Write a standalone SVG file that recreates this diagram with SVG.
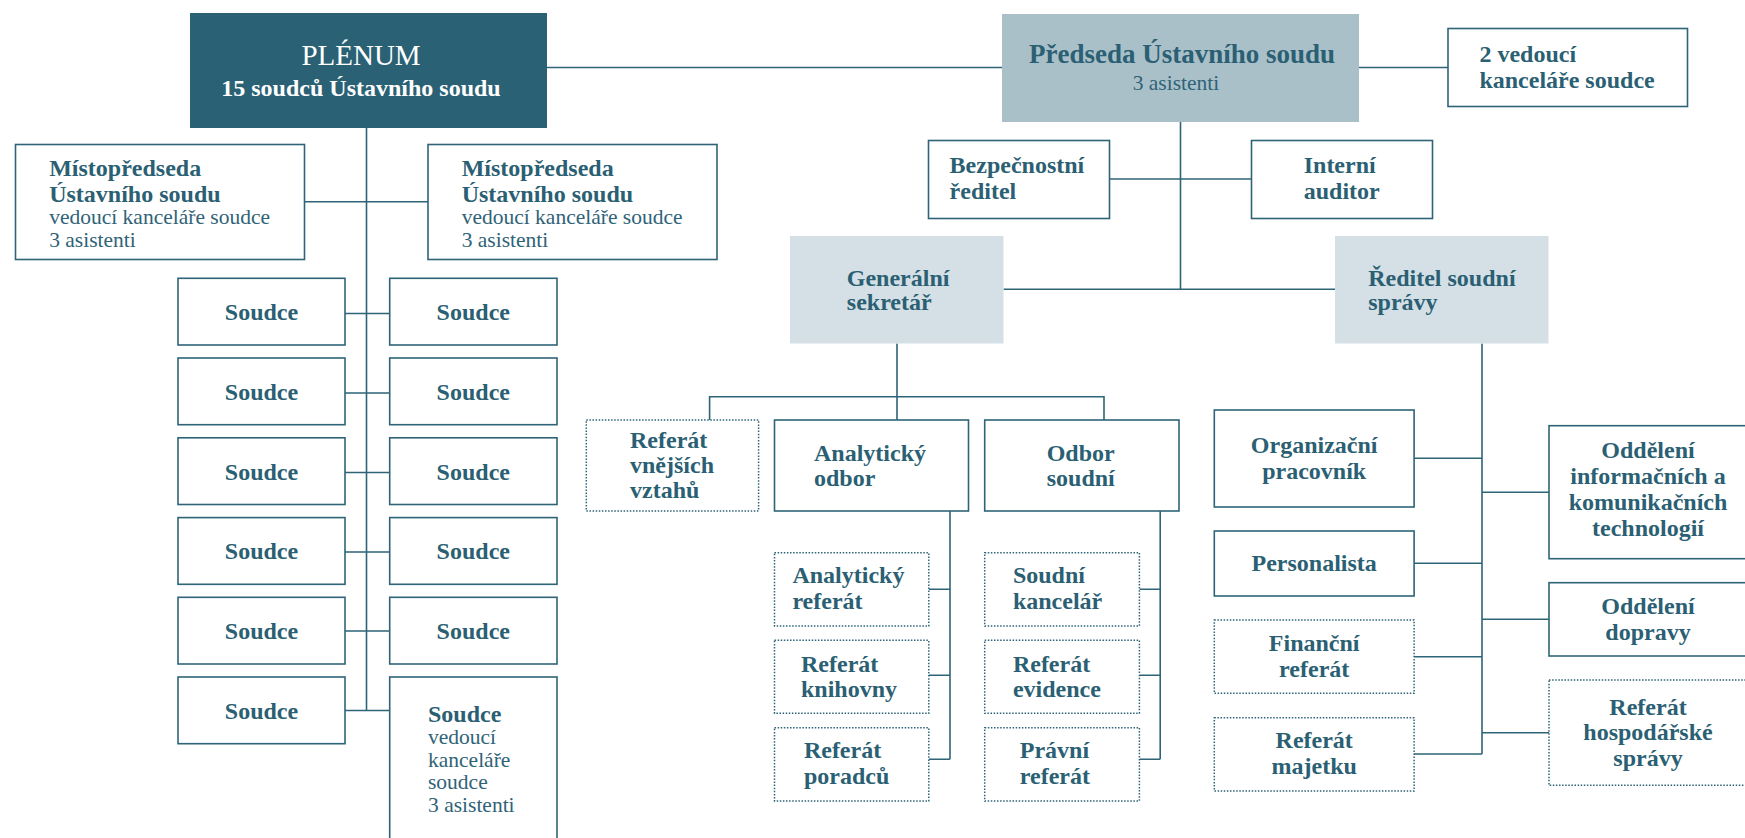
<svg xmlns="http://www.w3.org/2000/svg" width="1745" height="838" viewBox="0 0 1745 838">
<style>
  .box{fill:#ffffff;stroke:#2e6477;stroke-width:1.6}
  .dot{fill:#ffffff;stroke:#2e6477;stroke-width:1.5;stroke-dasharray:1.5 1.6}
  .dark{fill:#2a6175}
  .mid{fill:#a9c0c9}
  .light{fill:#d4e0e5}
  .b{font-family:"Liberation Serif","Times New Roman",serif;font-weight:bold;font-size:24px;fill:#2b5f73}
  .r{font-family:"Liberation Serif","Times New Roman",serif;font-size:21.5px;fill:#2f6377}
  .c{text-anchor:middle}
  .w{fill:#ffffff}
  #connectors path{fill:none;stroke:#2e6477;stroke-width:1.6}
</style>
<rect width="1745" height="838" fill="#ffffff"/>
<g id="connectors">
  <path d="M547,67.5 H1002"/>
  <path d="M1359,67.5 H1448"/>
  <path d="M366.5,128 V710.5"/>
  <path d="M304.5,201.7 H428"/>
  <path d="M345,313.5 H389.7 M345,393 H389.7 M345,472.5 H389.7 M345,552 H389.7 M345,631 H389.7 M345,710.5 H389.7"/>
  <path d="M1180.5,122 V289.3"/>
  <path d="M1109.5,179 H1251.5"/>
  <path d="M1003.5,289.3 H1335"/>
  <path d="M897,343.5 V420 M709.6,420 V396.7 H1104 V420"/>
  <path d="M950,511 V759.3 M928.8,589.3 H950 M928.8,675.3 H950 M928.8,759.3 H950"/>
  <path d="M1160.2,511 V759.3 M1139.4,589.3 H1160.2 M1139.4,675.3 H1160.2 M1139.4,759.3 H1160.2"/>
  <path d="M1482,343.5 V754 M1414,458.3 H1482 M1414,563.3 H1482 M1414,656.7 H1482 M1414,754 H1482 M1482,492.3 H1549 M1482,619.3 H1549 M1482,732.7 H1549"/>
</g>
<g id="plenum">
  <rect class="dark" x="190" y="13" width="357" height="115"/>
  <text class="r c w" x="361" y="65" style="font-size:29px">PLÉNUM</text>
  <text class="b c w" x="361" y="96" style="font-size:24px">15 soudců Ústavního soudu</text>
</g>
<g id="predseda">
  <rect class="mid" x="1002" y="14" width="357" height="108"/>
  <text class="b c" x="1182" y="63.3" style="font-size:27px">Předseda Ústavního soudu</text>
  <text class="r c" x="1176" y="90">3 asistenti</text>
</g>
<g id="vedouci-kancelare">
  <rect class="box" x="1448" y="28.5" width="239.5" height="78"/>
  <text class="b" x="1479.4" y="62.3">2 vedoucí</text>
  <text class="b" x="1479.4" y="88.3">kanceláře soudce</text>
</g>
<g id="mistopredseda-1">
  <rect class="box" x="15.5" y="144.5" width="289" height="115"/>
  <text class="b" x="49.2" y="176">Místopředseda</text>
  <text class="b" x="49.2" y="201.7">Ústavního soudu</text>
  <text class="r" x="49.2" y="224">vedoucí kanceláře soudce</text>
  <text class="r" x="49.2" y="246.7">3 asistenti</text>
</g>
<g id="mistopredseda-2">
  <rect class="box" x="428" y="144.5" width="289" height="115"/>
  <text class="b" x="461.7" y="176">Místopředseda</text>
  <text class="b" x="461.7" y="201.7">Ústavního soudu</text>
  <text class="r" x="461.7" y="224">vedoucí kanceláře soudce</text>
  <text class="r" x="461.7" y="246.7">3 asistenti</text>
</g>
<g id="soudce-1"><rect class="box" x="178" y="278.3" width="167" height="66.7"/><text class="b c" x="261.5" y="320">Soudce</text></g>
<g id="soudce-2"><rect class="box" x="389.7" y="278.3" width="167.3" height="66.7"/><text class="b c" x="473.3" y="320">Soudce</text></g>
<g id="soudce-3"><rect class="box" x="178" y="358" width="167" height="66.7"/><text class="b c" x="261.5" y="399.7">Soudce</text></g>
<g id="soudce-4"><rect class="box" x="389.7" y="358" width="167.3" height="66.7"/><text class="b c" x="473.3" y="399.7">Soudce</text></g>
<g id="soudce-5"><rect class="box" x="178" y="437.8" width="167" height="66.7"/><text class="b c" x="261.5" y="479.5">Soudce</text></g>
<g id="soudce-6"><rect class="box" x="389.7" y="437.8" width="167.3" height="66.7"/><text class="b c" x="473.3" y="479.5">Soudce</text></g>
<g id="soudce-7"><rect class="box" x="178" y="517.6" width="167" height="66.7"/><text class="b c" x="261.5" y="559.3">Soudce</text></g>
<g id="soudce-8"><rect class="box" x="389.7" y="517.6" width="167.3" height="66.7"/><text class="b c" x="473.3" y="559.3">Soudce</text></g>
<g id="soudce-9"><rect class="box" x="178" y="597.3" width="167" height="66.7"/><text class="b c" x="261.5" y="639">Soudce</text></g>
<g id="soudce-10"><rect class="box" x="389.7" y="597.3" width="167.3" height="66.7"/><text class="b c" x="473.3" y="639">Soudce</text></g>
<g id="soudce-11"><rect class="box" x="178" y="677" width="167" height="66.7"/><text class="b c" x="261.5" y="718.7">Soudce</text></g>
<g id="soudce-12">
  <rect class="box" x="389.7" y="677" width="167.3" height="200"/>
  <text class="b" x="428" y="722">Soudce</text>
  <text class="r" x="428" y="744">vedoucí</text>
  <text class="r" x="428" y="766.7">kanceláře</text>
  <text class="r" x="428" y="789">soudce</text>
  <text class="r" x="428" y="811.7">3 asistenti</text>
</g>
<g id="bezpecnostni-reditel">
  <rect class="box" x="928.5" y="140.5" width="181" height="78"/>
  <text class="b" x="949.6" y="173.3">Bezpečnostní</text>
  <text class="b" x="949.6" y="199.3">ředitel</text>
</g>
<g id="interni-auditor">
  <rect class="box" x="1251.5" y="140.5" width="181" height="78"/>
  <text class="b" x="1303.7" y="173.3">Interní</text>
  <text class="b" x="1303.7" y="199.3">auditor</text>
</g>
<g id="generalni-sekretar">
  <rect class="light" x="790" y="236" width="213.5" height="107.5"/>
  <text class="b" x="846.8" y="285.5">Generální</text>
  <text class="b" x="846.8" y="310">sekretář</text>
</g>
<g id="reditel-spravy">
  <rect class="light" x="1335" y="236" width="213.5" height="107.5"/>
  <text class="b" x="1368.2" y="285.5">Ředitel soudní</text>
  <text class="b" x="1368.2" y="310">správy</text>
</g>
<g id="referat-vnejsich-vztahu">
  <rect class="dot" x="586.3" y="420" width="172.3" height="91"/>
  <text class="b" x="630" y="448.3">Referát</text>
  <text class="b" x="630" y="473.3">vnějších</text>
  <text class="b" x="630" y="498.3">vztahů</text>
</g>
<g id="analyticky-odbor">
  <rect class="box" x="774.5" y="420" width="194" height="91"/>
  <text class="b" x="814" y="461">Analytický</text>
  <text class="b" x="814" y="486">odbor</text>
</g>
<g id="odbor-soudni">
  <rect class="box" x="984.7" y="420" width="194.3" height="91"/>
  <text class="b" x="1046.7" y="461">Odbor</text>
  <text class="b" x="1046.7" y="486">soudní</text>
</g>
<g id="analyticky-referat">
  <rect class="dot" x="774.5" y="552.7" width="154.3" height="73.3"/>
  <text class="b" x="792.4" y="583.3">Analytický</text>
  <text class="b" x="792.4" y="608.7">referát</text>
</g>
<g id="referat-knihovny">
  <rect class="dot" x="774.5" y="640.3" width="154.3" height="73"/>
  <text class="b" x="801" y="671.7">Referát</text>
  <text class="b" x="801" y="696.7">knihovny</text>
</g>
<g id="referat-poradcu">
  <rect class="dot" x="774.5" y="727.7" width="154.3" height="73.3"/>
  <text class="b" x="803.9" y="758.3">Referát</text>
  <text class="b" x="803.9" y="784">poradců</text>
</g>
<g id="soudni-kancelar">
  <rect class="dot" x="984.7" y="552.7" width="154.7" height="73.3"/>
  <text class="b" x="1012.9" y="583.3">Soudní</text>
  <text class="b" x="1012.9" y="608.7">kancelář</text>
</g>
<g id="referat-evidence">
  <rect class="dot" x="984.7" y="640.3" width="154.7" height="73"/>
  <text class="b" x="1012.9" y="671.7">Referát</text>
  <text class="b" x="1012.9" y="696.7">evidence</text>
</g>
<g id="pravni-referat">
  <rect class="dot" x="984.7" y="727.7" width="154.7" height="73.3"/>
  <text class="b" x="1019.8" y="758.3">Právní</text>
  <text class="b" x="1019.8" y="784">referát</text>
</g>
<g id="organizacni-pracovnik">
  <rect class="box" x="1214.3" y="410" width="199.8" height="97"/>
  <text class="b c" x="1314.2" y="453.3">Organizační</text>
  <text class="b c" x="1314.2" y="479">pracovník</text>
</g>
<g id="personalista">
  <rect class="box" x="1214.3" y="531" width="199.8" height="65"/>
  <text class="b c" x="1314.2" y="570.7">Personalista</text>
</g>
<g id="financni-referat">
  <rect class="dot" x="1214.3" y="620" width="199.8" height="73.3"/>
  <text class="b c" x="1314.2" y="651">Finanční</text>
  <text class="b c" x="1314.2" y="676.7">referát</text>
</g>
<g id="referat-majetku">
  <rect class="dot" x="1214.3" y="717.7" width="199.8" height="73.3"/>
  <text class="b c" x="1314.2" y="748.3">Referát</text>
  <text class="b c" x="1314.2" y="774.3">majetku</text>
</g>
<g id="oddeleni-ikt">
  <rect class="box" x="1549" y="425.7" width="198" height="133"/>
  <text class="b c" x="1648" y="458.3">Oddělení</text>
  <text class="b c" x="1648" y="484">informačních a</text>
  <text class="b c" x="1648" y="510">komunikačních</text>
  <text class="b c" x="1648" y="535.7">technologií</text>
</g>
<g id="oddeleni-dopravy">
  <rect class="box" x="1549" y="582.7" width="198" height="73.3"/>
  <text class="b c" x="1648" y="614">Oddělení</text>
  <text class="b c" x="1648" y="640">dopravy</text>
</g>
<g id="referat-hospodarske-spravy">
  <rect class="dot" x="1549" y="680" width="198" height="105.3"/>
  <text class="b c" x="1648" y="715">Referát</text>
  <text class="b c" x="1648" y="740">hospodářské</text>
  <text class="b c" x="1648" y="765.7">správy</text>
</g>
</svg>
